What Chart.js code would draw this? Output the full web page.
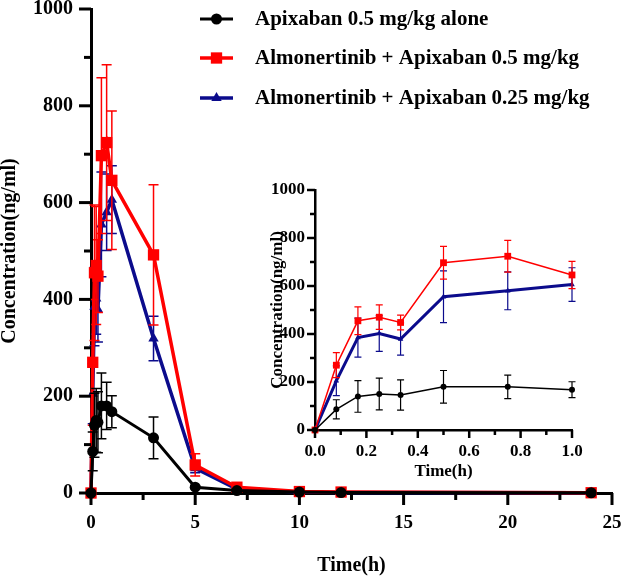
<!DOCTYPE html>
<html>
<head>
<meta charset="utf-8">
<script src="https://cdn.jsdelivr.net/npm/chart.js@4.4.1/dist/chart.umd.min.js"></script>
<style>
  html, body { margin: 0; padding: 0; background: #ffffff; }
  #wrap { position: relative; width: 624px; height: 581px; }
  #main { position: absolute; left: 0; top: 0; }
  #insetBox { position: absolute; left: 262px; top: 176px; width: 330px; height: 310px; }
</style>
</head>
<body>
<div id="wrap">
  <canvas id="main" width="624" height="581"></canvas>
  <div id="insetBox"><canvas id="inset" width="330" height="310"></canvas></div>
</div>
<script>
// ---------------- DATA ----------------
const seriesNames = [
  'Apixaban 0.5 mg/kg alone',
  'Almonertinib + Apixaban 0.5 mg/kg',
  'Almonertinib + Apixaban 0.25 mg/kg'
];
// Main panel (0-24 h)
const times = [0, 0.083, 0.167, 0.25, 0.333, 0.5, 0.75, 1, 3, 5, 7, 10, 12, 24];
const apixAlone     = [0, 86, 140, 150, 146, 180, 180, 168, 114, 12, 5, 2, 1, 0.5];
const apixAloneErr  = [0, 40, 66, 66, 63, 68, 49, 33, 43, 3, 2, 1, 0.5, 0.2];
const combo05       = [0, 270, 455, 470, 448, 697, 724, 646, 492, 58, 12, 3, 2, 0.5];
const combo05Err    = [0, 130, 140, 122, 75, 161, 161, 143, 145, 23, 5, 1, 1, 0.2];
const combo025      = [0, 205, 385, 402, 379, 555, 580, 606, 319, 51, 8, 2, 1, 0.5];
const combo025Err   = [0, 62, 81, 74, 67, 108, 79, 70, 46, 9, 3, 1, 0.5, 0.2];
// Inset panel (0-1 h)
const insetTimes        = [0, 0.083, 0.167, 0.25, 0.333, 0.5, 0.75, 1];
const insetApixAlone    = [0, 86, 140, 150, 146, 180, 180, 168];
const insetApixAloneErr = [0, 40, 66, 66, 63, 68, 49, 33];
const insetCombo05      = [0, 270, 455, 470, 448, 697, 724, 646];
const insetCombo05Err   = [0, 52, 58, 51, 31, 68, 66, 57];
const insetCombo025     = [0, 205, 385, 402, 379, 555, 580, 606];
const insetCombo025Err  = [0, 62, 81, 74, 67, 108, 79, 70];
// Axis ranges / labelled ticks
const mainXRange = [0, 25], mainXStep = 2.5, mainXLabelEvery = 5;
const mainYRange = [0, 1000], mainYStep = 100, mainYLabelEvery = 200;
const insetXRange = [0, 1], insetXStep = 0.1;
const insetYRange = [0, 1000], insetYStep = 100, insetYLabelEvery = 200;
const axisTitleX = 'Time(h)';
const axisTitleY = 'Concentration(ng/ml)';

// ---------------- STYLE ----------------
const COLORS = ['#000000', '#ff0000', '#0b0b8c'];
const FONT = '"Liberation Serif", "Times New Roman", serif';

function pts(xs, ys) { return xs.map((x, i) => ({ x: x, y: ys[i] })); }

// error bars, drawn just before each dataset's line so markers sit on top
const errorBarPlugin = {
  id: 'errorBars',
  beforeDatasetDraw(chart, args, opts) {
    const errs = opts.errors && opts.errors[args.index];
    if (!errs) return;
    const ds = chart.data.datasets[args.index];
    const xs = chart.scales.x, ys = chart.scales.y;
    const ctx = chart.ctx;
    ctx.save();
    ctx.strokeStyle = ds.borderColor;
    ctx.lineWidth = opts.width;
    ds.data.forEach((p, i) => {
      const e = errs[i];
      if (!e) return;
      const px = xs.getPixelForValue(p.x);
      const top = ys.getPixelForValue(p.y + e);
      const bot = ys.getPixelForValue(Math.max(p.y - e, 0));
      ctx.beginPath();
      ctx.moveTo(px, top); ctx.lineTo(px, bot);
      ctx.moveTo(px - opts.cap, top); ctx.lineTo(px + opts.cap, top);
      if (p.y - e > 0) { ctx.moveTo(px - opts.cap, bot); ctx.lineTo(px + opts.cap, bot); }
      ctx.stroke();
    });
    ctx.restore();
  }
};

// outward tick marks (major + minor)
const tickPlugin = {
  id: 'outTicks',
  afterDraw(chart, args, o) {
    const ctx = chart.ctx, a = chart.chartArea;
    ctx.save();
    ctx.strokeStyle = '#000';
    ctx.lineWidth = o.width;
    ctx.lineCap = 'butt';
    const xs = chart.scales.x, ys = chart.scales.y;
    xs.ticks.forEach(t => {
      const px = xs.getPixelForValue(t.value);
      const len = o.xMajor(t.value) ? o.major : o.minor;
      ctx.beginPath(); ctx.moveTo(px, a.bottom); ctx.lineTo(px, a.bottom + len); ctx.stroke();
    });
    ys.ticks.forEach(t => {
      const py = ys.getPixelForValue(t.value);
      const len = o.yMajor(t.value) ? o.major : o.minor;
      ctx.beginPath(); ctx.moveTo(a.left - len, py); ctx.lineTo(a.left, py); ctx.stroke();
    });
    ctx.restore();
  }
};

function drawMarker(ctx, style, r, x, y, color) {
  ctx.fillStyle = color;
  ctx.beginPath();
  if (style === 'circle') {
    ctx.arc(x, y, r, 0, Math.PI * 2);
  } else if (style === 'rect') {
    const s = Math.SQRT1_2 * r;
    ctx.rect(x - s, y - s, 2 * s, 2 * s);
  } else {
    const h = r * 1.5, w = r * Math.sqrt(3);
    ctx.moveTo(x, y - r);
    ctx.lineTo(x - w / 2, y - r + h);
    ctx.lineTo(x + w / 2, y - r + h);
    ctx.closePath();
  }
  ctx.fill();
}

// legend drawn in the top-right region of the main panel
const legendPlugin = {
  id: 'customLegend',
  afterDraw(chart, args, o) {
    const ctx = chart.ctx;
    ctx.save();
    chart.data.datasets.forEach((ds, i) => {
      const y = o.rows[i];
      ctx.strokeStyle = ds.borderColor;
      ctx.lineWidth = ds.borderWidth;
      ctx.beginPath(); ctx.moveTo(o.x0, y); ctx.lineTo(o.x1, y); ctx.stroke();
      drawMarker(ctx, ds.pointStyle, ds.pointRadius, (o.x0 + o.x1) / 2, y, ds.borderColor);
      ctx.fillStyle = '#000';
      ctx.font = 'bold ' + o.size + 'px ' + FONT;
      ctx.textBaseline = 'middle';
      ctx.textAlign = 'left';
      ctx.fillText(seriesNames[i], o.textX, y + 1);
    });
    ctx.restore();
  }
};

function isMult(v, step) { return Math.abs(v / step - Math.round(v / step)) < 1e-6; }

function makeScales(cfg) {
  return {
    x: {
      type: 'linear', min: cfg.xRange[0], max: cfg.xRange[1],
      grid: { display: true, drawOnChartArea: false, drawTicks: true, tickLength: cfg.major, tickColor: 'rgba(0,0,0,0)' },
      border: { display: true, color: '#000', width: cfg.axisW },
      ticks: {
        stepSize: cfg.xStep, autoSkip: false, maxRotation: 0, color: '#000', padding: cfg.xPad,
        font: { family: FONT, weight: 'bold', size: cfg.xFont },
        callback: cfg.xLabel
      },
      title: { display: true, text: axisTitleX, color: '#000',
        font: { family: FONT, weight: 'bold', size: cfg.titleFont, lineHeight: 1.2 },
        padding: { top: 0, bottom: cfg.xTitlePadB } },
      afterFit(s) { s.height = cfg.xH; s.paddingLeft = 0; s.paddingRight = 0; }
    },
    y: {
      type: 'linear', min: cfg.yRange[0], max: cfg.yRange[1],
      grid: { display: true, drawOnChartArea: false, drawTicks: true, tickLength: cfg.major, tickColor: 'rgba(0,0,0,0)' },
      border: { display: true, color: '#000', width: cfg.axisW },
      ticks: {
        stepSize: cfg.yStep, autoSkip: false, color: '#000', padding: cfg.yPad,
        font: { family: FONT, weight: 'bold', size: cfg.yFont },
        callback: v => isMult(v, cfg.yLabelEvery) ? String(v) : ''
      },
      title: { display: true, text: axisTitleY, color: '#000',
        font: { family: FONT, weight: 'bold', size: cfg.titleFont, lineHeight: 1 },
        padding: { top: cfg.yTitlePadT, bottom: 0 } },
      afterFit(s) { s.width = cfg.yW; s.paddingTop = 0; s.paddingBottom = 0; }
    }
  };
}

function makeDatasets(xs, a, b, c, big) {
  const base = { tension: 0, clip: false, fill: false, pointBorderWidth: 0, pointHoverRadius: 0 };
  return [
    Object.assign({}, base, { label: seriesNames[0], data: pts(xs, a), borderColor: COLORS[0], backgroundColor: COLORS[0], pointBackgroundColor: COLORS[0],
      borderWidth: big ? 3 : 1.5, pointStyle: 'circle', pointRadius: big ? 5.5 : 3 }),
    Object.assign({}, base, { label: seriesNames[1], data: pts(xs, b), borderColor: COLORS[1], backgroundColor: COLORS[1], pointBackgroundColor: COLORS[1],
      borderWidth: big ? 3.5 : 1.5, pointStyle: 'rect', pointRadius: big ? 8 : 4.8 }),
    Object.assign({}, base, { label: seriesNames[2], data: pts(xs, c), borderColor: COLORS[2], backgroundColor: COLORS[2], pointBackgroundColor: COLORS[2],
      borderWidth: big ? 3.5 : 3, pointStyle: 'triangle', pointRadius: big ? 6 : 3.2 })
  ];
}

// ---------------- MAIN CHART ----------------
new Chart(document.getElementById('main'), {
  type: 'line',
  data: { datasets: makeDatasets(times, apixAlone, combo05, combo025, true) },
  options: {
    responsive: false, animation: false, events: [],
    layout: { padding: { top: 9, right: 12, left: 0, bottom: 0 } },
    scales: makeScales({
      xRange: mainXRange, xStep: mainXStep, yRange: mainYRange, yStep: mainYStep,
      yLabelEvery: mainYLabelEvery,
      xLabel: v => isMult(v, mainXLabelEvery) ? String(v) : '',
      major: 12, axisW: 3, xPad: 7, yPad: 6, xFont: 19, yFont: 20, titleFont: 20,
      xTitlePadB: 3, yTitlePadT: 0, xH: 88, yW: 91
    }),
    plugins: {
      legend: { display: false }, tooltip: { enabled: false },
      errorBars: { errors: [apixAloneErr, combo05Err, combo025Err], width: 1.5, cap: 5 },
      outTicks: { major: 12, minor: 7, width: 3,
        xMajor: v => isMult(v, mainXLabelEvery), yMajor: v => isMult(v, mainYLabelEvery) },
      customLegend: { rows: [19, 58, 98], x0: 200, x1: 233, textX: 255, size: 21 }
    }
  },
  plugins: [errorBarPlugin, tickPlugin, legendPlugin]
});

// ---------------- INSET CHART ----------------
new Chart(document.getElementById('inset'), {
  type: 'line',
  data: { datasets: makeDatasets(insetTimes, insetApixAlone, insetCombo05, insetCombo025, false) },
  options: {
    responsive: false, animation: false, events: [],
    layout: { padding: { top: 14, right: 20, left: 0, bottom: 0 } },
    scales: makeScales({
      xRange: insetXRange, xStep: insetXStep, yRange: insetYRange, yStep: insetYStep,
      yLabelEvery: insetYLabelEvery,
      xLabel: v => isMult(v, 0.2) ? v.toFixed(1) : '',
      major: 8, axisW: 2.5, xPad: 3, yPad: 2, xFont: 17, yFont: 17, titleFont: 17,
      xTitlePadB: 4, yTitlePadT: 7, xH: 56, yW: 53
    }),
    plugins: {
      legend: { display: false }, tooltip: { enabled: false },
      errorBars: { errors: [insetApixAloneErr, insetCombo05Err, insetCombo025Err], width: 1.2, cap: 3.5 },
      outTicks: { major: 8, minor: 5, width: 2.5,
        xMajor: v => isMult(v, 0.2), yMajor: v => isMult(v, insetYLabelEvery) }
    }
  },
  plugins: [errorBarPlugin, tickPlugin]
});
</script>
</body>
</html>
